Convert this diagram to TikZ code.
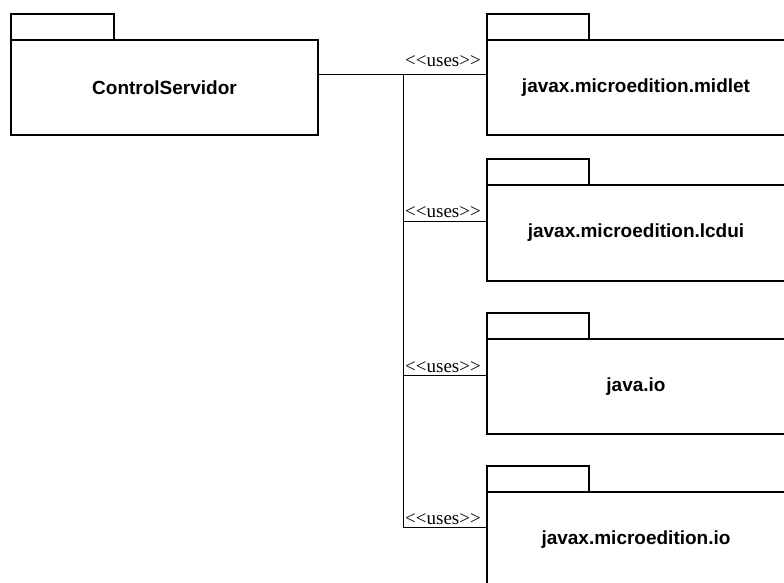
\documentclass[tikz,border=0pt]{standalone}
\usepackage{fontspec}
\setmainfont{Liberation Serif}[Ligatures=NoCommon]
\newfontfamily\pkgfont{Liberation Sans}
\newcommand{\usesstereo}{{<}{<}uses{>}{>}}
\begin{document}
\begin{tikzpicture}[x=1pt,y=-1pt,
  line width=1.2pt, line join=miter,
  pkgbody/.style={draw=black, fill=white, line width=1.2pt, anchor=north west,
    inner sep=0pt, outer sep=0pt, font=\pkgfont\bfseries\fontsize{19}{21}\selectfont},
  pkgtab/.style={draw=black, fill=white, line width=1.2pt, anchor=south west,
    inner sep=0pt, outer sep=0pt, minimum width=102pt, minimum height=26pt},
  uselabel/.style={anchor=base, inner sep=0pt, font=\fontsize{19}{21}\selectfont},
  wire/.style={draw=black, line width=0.9pt}]
\useasboundingbox (0,0) rectangle (784,583);
\clip (0,0) rectangle (784,583);

% package ControlServidor
\node[pkgbody, minimum width=307pt, minimum height=95pt] (ctrl) at (11,40) {ControlServidor};
\node[pkgtab, minimum width=103pt] (ctrltab) at (ctrl.north west) {};

% used packages
\node[pkgbody, minimum width=298pt, minimum height=95pt] (midlet) at (487,40) {javax.microedition.midlet};
\node[pkgtab] (midlettab) at (midlet.north west) {};

\node[pkgbody, minimum width=298pt, minimum height=96pt] (lcdui) at (487,185) {javax.microedition.lcdui};
\node[pkgtab] (lcduitab) at (lcdui.north west) {};

\node[pkgbody, minimum width=298pt, minimum height=95pt] (javaio) at (487,339) {java.io};
\node[pkgtab] (javaiotab) at (javaio.north west) {};

\node[pkgbody, minimum width=298pt, minimum height=95pt] (meio) at (487,492) {javax.microedition.io};
\node[pkgtab] (meiotab) at (meio.north west) {};

% junction points of the dependency lines
\coordinate (j1) at (403,74);
\coordinate (j2) at (403,221);
\coordinate (j3) at (403,375);
\coordinate (j4) at (403,527);

\draw[wire] (ctrl.east |- j1) -- (j1 -| midlet.west);
\draw[wire] (j1) -- (j4);
\draw[wire] (j2) -- (j2 -| lcdui.west);
\draw[wire] (j3) -- (j3 -| javaio.west);
\draw[wire] (j4) -- (j4 -| meio.west);

% stereotype labels
\node[uselabel] (u1) at (443,67) {\usesstereo};
\node[uselabel] (u2) at (443,217) {\usesstereo};
\node[uselabel] (u3) at (443,372) {\usesstereo};
\node[uselabel] (u4) at (443,524) {\usesstereo};
\end{tikzpicture}
\end{document}
